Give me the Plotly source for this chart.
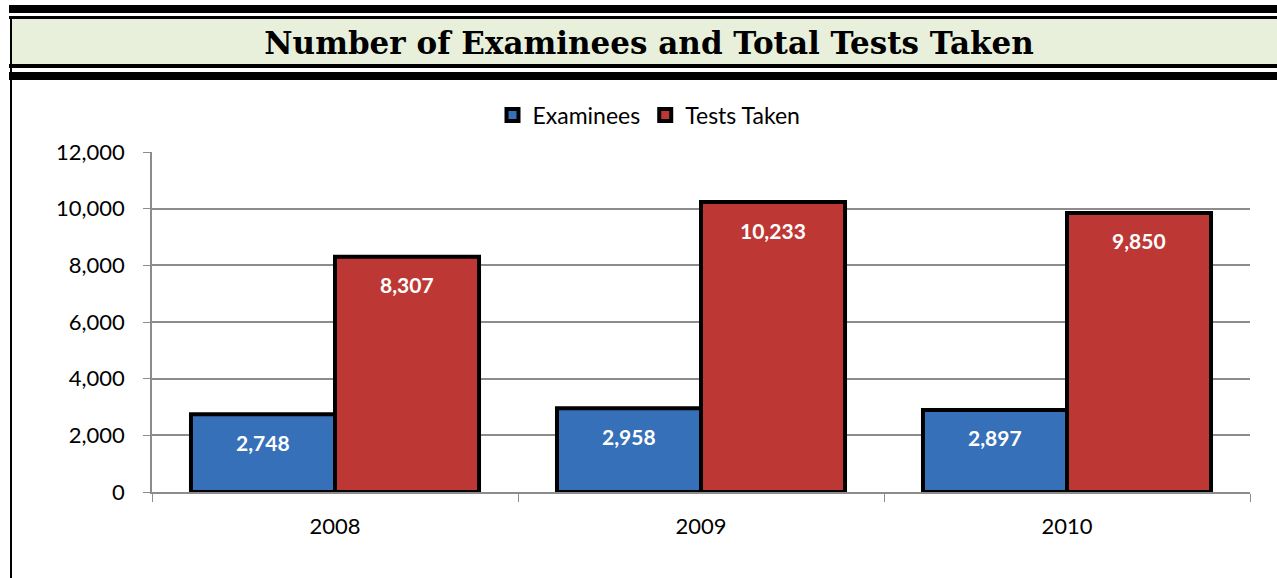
import plotly.graph_objects as go

years = ["2008", "2009", "2010"]
examinees = [2748, 2958, 2897]
tests_taken = [8307, 10233, 9850]
y_ticks = [0, 2000, 4000, 6000, 8000, 10000, 12000]
title_text = "Number of Examinees and Total Tests Taken"

W, H = 1277, 578
L, R, T, B = 152, 27, 152, 86
pw, ph = W - L - R, H - T - B
BARGAP = 0.213

def px(x):
    return (x - L) / pw

def py(y):
    return (H - B - y) / ph

fig = go.Figure()
series = [("Examinees", examinees, "#3670b8", -1), ("Tests Taken", tests_taken, "#bd3734", 1)]
cat_w = pw / len(years)
bar_w = cat_w * (1 - BARGAP) / 2
annotations = []
for name, vals, col, side in series:
    fig.add_trace(go.Bar(
        x=years, y=vals, name=name,
        marker=dict(color=col, line=dict(color="black", width=4)),
    ))
    for i, v in enumerate(vals):
        annotations.append(dict(
            x=i, y=v, xref="x", yref="y", text="<b>" + f"{v:,}" + "</b>", showarrow=False,
            xshift=side * bar_w / 2, yshift=-28, yanchor="middle", xanchor="center",
            font=dict(family="Lato", size=21, color="white"),
        ))

shapes = []
def rect(x0, y0, x1, y1, color):
    shapes.append(dict(type="rect", xref="paper", yref="paper",
                       x0=px(x0), x1=px(x1), y0=py(y0), y1=py(y1),
                       fillcolor=color, line=dict(width=0), layer="below"))

rect(10, 19, W + 5, 64, "#e8f0dc")
rect(9, 5, W + 5, 13, "black")
rect(9, 16, W + 5, 19, "black")
rect(9, 64, W + 5, 68, "black")
rect(9, 72, W + 5, 80, "black")
rect(10, 19, 12, H + 5, "black")

fig.update_layout(
    width=W, height=H,
    margin=dict(l=L, r=R, t=T, b=B),
    paper_bgcolor="white", plot_bgcolor="white",
    barmode="group", bargap=BARGAP, bargroupgap=0,
    shapes=shapes, annotations=annotations,
    title=dict(text="<b>" + title_text + "</b>", x=649 / W, xref="container", xanchor="center",
               y=1 - 43 / H, yref="container", yanchor="middle",
               font=dict(family="DejaVu Serif", size=31, color="black")),
    legend=dict(orientation="h", x=px(649), xanchor="center", y=py(115), yanchor="middle",
                font=dict(family="Lato", size=23, color="black"), itemwidth=30,
                bgcolor="rgba(0,0,0,0)"),
    font=dict(family="Lato", size=22, color="black"),
    yaxis=dict(range=[0, 12000], tickvals=y_ticks, tickformat=",", showgrid=True,
               gridcolor="#8c8c8c", gridwidth=1.5, showline=True, linecolor="#8c8c8c", linewidth=1.5,
               ticks="outside", ticklen=7, tickcolor="#8c8c8c", ticklabelstandoff=14, zeroline=False),
    xaxis=dict(type="category", range=[-0.5, len(years) - 0.5], showline=True, linecolor="#8c8c8c",
               linewidth=1.5, ticks="outside", tickson="boundaries", ticklen=8, tickcolor="#8c8c8c",
               ticklabelstandoff=14),
)

fig.write_html("out.html", config={"displayModeBar": False},
               post_script="document.body.style.margin='0';")
